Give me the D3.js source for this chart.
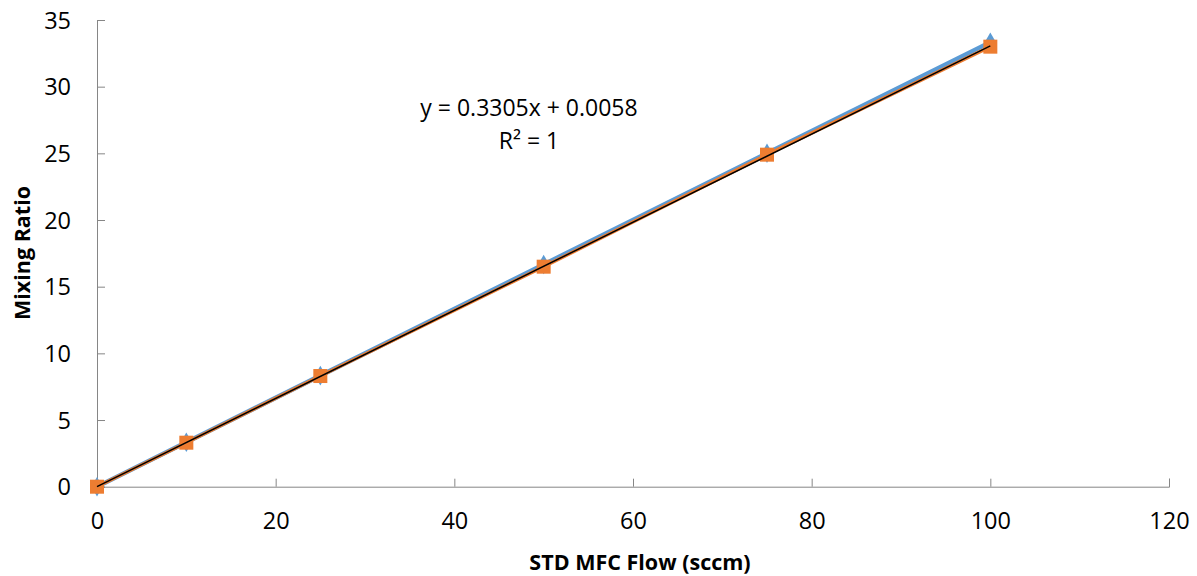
<!DOCTYPE html>
<html>
<head>
<meta charset="utf-8">
<script src="https://cdn.jsdelivr.net/npm/d3@7"></script>
<style>
    body { margin: 0; background: #fff; }
    .tick text { font-family: "Open Sans", sans-serif; font-size: 23.5px; fill: #000; }
    .axisTitle { font-family: "Open Sans", sans-serif; font-size: 21.5px; font-weight: bold; }
    .eq { font-family: "Open Sans", sans-serif; font-size: 23px; }
</style>
</head>
<body>
<script>
(function(){
    //chart data
    var flow = [0, 10, 25, 50, 75, 100];
    var blueSeries = [0, 3.33, 8.33, 16.67, 25, 33.33];
    var orangeSeries = [0, 3.3, 8.3, 16.5, 24.9, 33];
    var xTicks = [0, 20, 40, 60, 80, 100, 120];
    var yTicks = [0, 5, 10, 15, 20, 25, 30, 35];
    var slope = 0.3305, intercept = 0.0058;

    window.onload = setChart();

    function setChart(){
        var width = 1197, height = 576;

        var svg = d3.select("body")
            .append("svg")
            .attr("width", width)
            .attr("height", height);

        //scales
        var x = d3.scaleLinear().domain([0, 120]).range([97, 1169]);
        var y = d3.scaleLinear().domain([0, 35]).range([486.7, 20]);

        //x axis, ticks pointing up inside the plot
        var xAxis = svg.append("g")
            .attr("transform", "translate(0," + y(0) + ")")
            .call(d3.axisBottom(x).tickValues(xTicks).tickSize(-8).tickPadding(26).tickFormat(d3.format("d")));
        xAxis.select(".domain").attr("stroke", "#868686");
        xAxis.selectAll(".tick line").attr("stroke", "#868686");

        //y axis, ticks pointing right
        var yAxis = svg.append("g")
            .attr("transform", "translate(" + x(0) + ",0)")
            .call(d3.axisLeft(y).tickValues(yTicks).tickSize(-8).tickPadding(26).tickFormat(d3.format("d")));
        yAxis.select(".domain").attr("stroke", "#868686");
        yAxis.selectAll(".tick line").attr("stroke", "#868686");
        yAxis.selectAll(".tick text").attr("dy", "0.35em");

        var line = d3.line()
            .x(function(d){ return x(d[0]); })
            .y(function(d){ return y(d[1]); });

        var bluePts = flow.map(function(f, i){ return [f, blueSeries[i]]; });
        var orangePts = flow.map(function(f, i){ return [f, orangeSeries[i]]; });

        //blue series with diamond markers
        svg.append("path")
            .datum(bluePts)
            .attr("d", line)
            .attr("fill", "none")
            .attr("stroke", "#5B9BD5")
            .attr("stroke-width", 4.5);

        svg.selectAll(".diamond")
            .data(bluePts)
            .enter()
            .append("path")
            .attr("class", "diamond")
            .attr("d", d3.symbol().type(d3.symbolDiamond).size(110))
            .attr("transform", function(d){ return "translate(" + x(d[0]) + "," + y(d[1]) + ")"; })
            .attr("fill", "#5B9BD5");

        //orange series with square markers
        svg.append("path")
            .datum(orangePts)
            .attr("d", line)
            .attr("fill", "none")
            .attr("stroke", "#ED7D31")
            .attr("stroke-width", 3.5);

        svg.selectAll(".square")
            .data(orangePts)
            .enter()
            .append("rect")
            .attr("class", "square")
            .attr("x", function(d){ return x(d[0]) - 7; })
            .attr("y", function(d){ return y(d[1]) - 7; })
            .attr("width", 14)
            .attr("height", 14)
            .attr("fill", "#ED7D31");

        //linear trendline
        svg.append("line")
            .attr("x1", x(0))
            .attr("y1", y(intercept))
            .attr("x2", x(100))
            .attr("y2", y(slope * 100 + intercept))
            .attr("stroke", "#000")
            .attr("stroke-width", 1.5);

        //trendline equation
        svg.append("text")
            .attr("class", "eq")
            .attr("x", 529)
            .attr("y", 116)
            .attr("text-anchor", "middle")
            .text("y = 0.3305x + 0.0058");
        svg.append("text")
            .attr("class", "eq")
            .attr("x", 529)
            .attr("y", 149)
            .attr("text-anchor", "middle")
            .text("R² = 1");

        //axis titles
        svg.append("text")
            .attr("class", "axisTitle")
            .attr("x", 640)
            .attr("y", 570)
            .attr("text-anchor", "middle")
            .text("STD MFC Flow (sccm)");

        svg.append("text")
            .attr("class", "axisTitle")
            .attr("transform", "translate(30,253) rotate(-90)")
            .attr("text-anchor", "middle")
            .text("Mixing Ratio");
    };
})();
</script>
</body>
</html>
